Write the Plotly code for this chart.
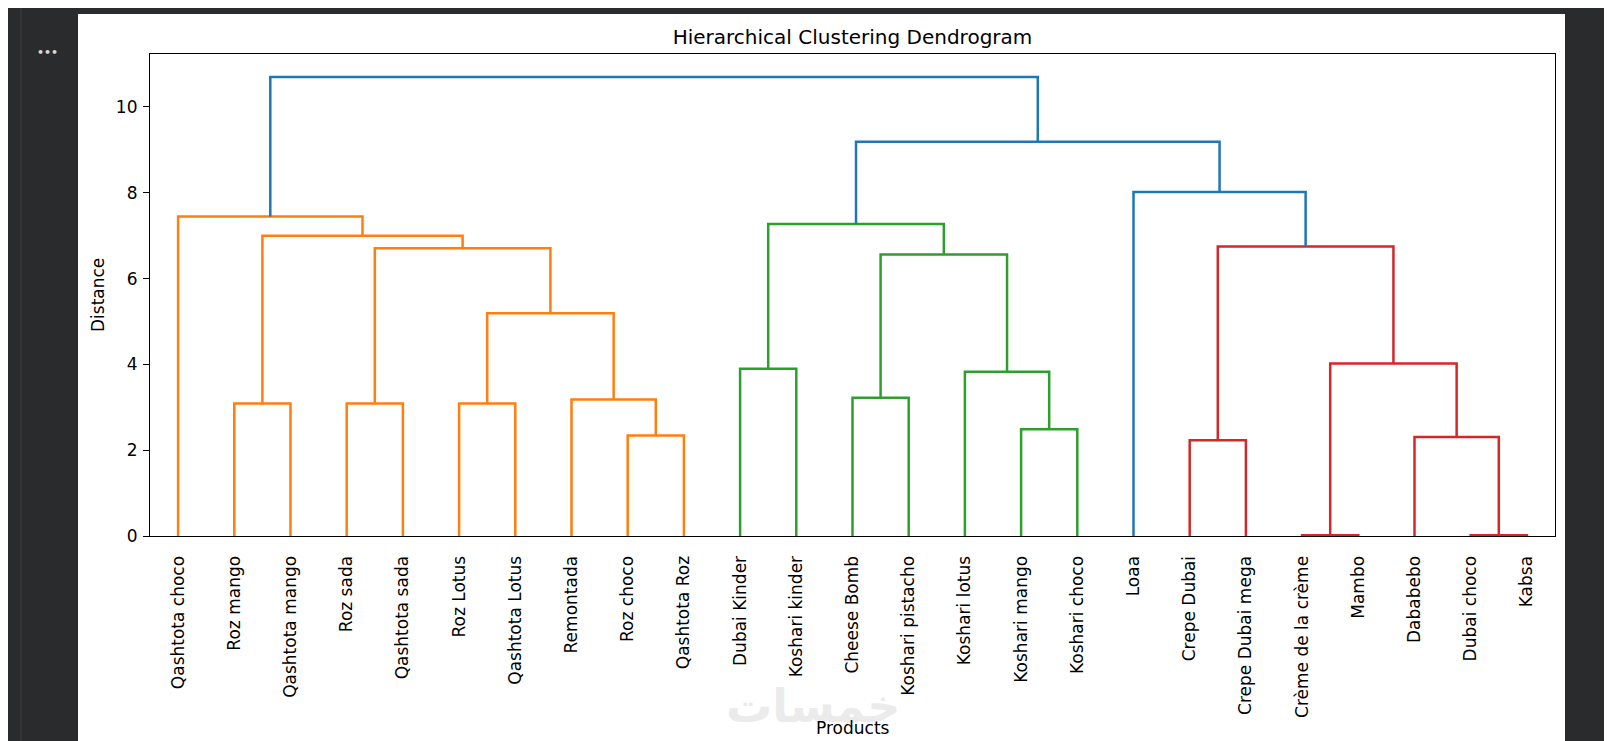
import plotly.graph_objects as go

# ---------------- data ----------------
products = ["Qashtota choco", "Roz mango", "Qashtota mango", "Roz sada", "Qashtota sada",
            "Roz Lotus", "Qashtota Lotus", "Remontada", "Roz choco", "Qashtota Roz",
            "Dubai Kinder", "Koshari kinder", "Cheese Bomb", "Koshari pistacho",
            "Koshari lotus", "Koshari mango", "Koshari choco", "Loaa", "Crepe Dubai",
            "Crepe Dubai mega", "Crème de la crème", "Mambo", "Dababebo", "Dubai choco", "Kabsa"]

# merges (scipy style: id < n is a leaf, id >= n is merge id-n)
merge_left = [20, 23, 18, 22, 8, 15, 1, 3, 5, 7, 12, 14, 10, 25, 33, 35, 32, 27, 31, 37, 0, 17, 44, 45]
merge_right = [21, 24, 19, 26, 9, 16, 2, 4, 6, 29, 13, 30, 11, 28, 34, 36, 39, 38, 41, 40, 43, 42, 46, 47]
merge_height = [0.02, 0.02, 2.23, 2.31, 2.34, 2.49, 3.09, 3.09, 3.09, 3.18, 3.22, 3.83, 3.90,
                4.02, 5.19, 6.56, 6.71, 6.75, 7.00, 7.27, 7.45, 8.02, 9.19, 10.70]

y_ticks = [0, 2, 4, 6, 8, 10]

# ---------------- geometry ----------------
n = len(products)
leaf_x = [5 + 10 * i for i in range(n)]
node_x = {i: leaf_x[i] for i in range(n)}
node_h = {i: 0.0 for i in range(n)}
parent = {}
for k, (a, b, h) in enumerate(zip(merge_left, merge_right, merge_height)):
    nid = n + k
    node_x[nid] = (node_x[a] + node_x[b]) / 2
    node_h[nid] = h
    parent[a] = nid
    parent[b] = nid

threshold = 0.7 * max(merge_height)
above_color = "#1f77b4"
palette = ["#ff7f0e", "#2ca02c", "#d62728", "#9467bd", "#8c564b"]

# find cluster roots below threshold
roots = []
for k, h in enumerate(merge_height):
    nid = n + k
    if h < threshold and (nid not in parent or node_h[parent[nid]] >= threshold):
        roots.append(nid)
roots.sort(key=lambda r: node_x[r])

link_color = {}


def paint(nid, col):
    if nid < n:
        return
    link_color[nid] = col
    k = nid - n
    paint(merge_left[k], col)
    paint(merge_right[k], col)


for i, r in enumerate(roots):
    paint(r, palette[i % len(palette)])

groups = {}
for k, (a, b, h) in enumerate(zip(merge_left, merge_right, merge_height)):
    nid = n + k
    col = link_color.get(nid, above_color)
    xs, ys = groups.setdefault(col, ([], []))
    xs += [node_x[a], node_x[a], node_x[b], node_x[b], None]
    ys += [node_h[a], h, h, node_h[b], None]

fig = go.Figure()
for col, (xs, ys) in groups.items():
    fig.add_trace(go.Scatter(x=xs, y=ys, mode="lines",
                             line=dict(color=col, width=2.5),
                             hoverinfo="skip", showlegend=False))

W, H = 1612, 741
ML, MR, MT, MB = 142, 65, 46, 213
PW, PH = W - ML - MR, H - MT - MB


def px(x):
    return (x - ML) / PW


def py(y):
    return (H - MB - y) / PH


font = "DejaVu Sans"
fig.update_layout(
    width=W, height=H,
    margin=dict(l=ML, r=MR, t=MT, b=MB),
    paper_bgcolor="#2a2b2d",
    plot_bgcolor="white",
    title=dict(text="Hierarchical Clustering Dendrogram", x=0.5, xref="paper",
               xanchor="center", y=1 - 29 / H, yanchor="middle",
               font=dict(family=font, size=20, color="black")),
    font=dict(family=font, color="black"),
    xaxis=dict(range=[0, 10 * n], tickmode="array", tickvals=leaf_x, ticktext=products,
               tickangle=-90, ticks="", showline=True, mirror=True, linecolor="black",
               linewidth=1.2, showgrid=False, zeroline=False,
               tickfont=dict(family=font, size=17, color="black"),
               ticklabelstandoff=12, fixedrange=True),
    yaxis=dict(range=[0, max(merge_height) * 1.05], tickmode="array", tickvals=y_ticks,
               ticks="outside", ticklen=6, tickwidth=1.2, tickcolor="black",
               showline=True, mirror=True, linecolor="black", linewidth=1.2,
               showgrid=False, zeroline=False,
               tickfont=dict(family=font, size=17, color="black"),
               ticklabelstandoff=2, fixedrange=True),
    shapes=[
        dict(type="rect", xref="paper", yref="paper", x0=px(70), x1=px(1557), y0=py(741),
             y1=py(6), fillcolor="white", line=dict(width=0), layer="below"),
        dict(type="line", xref="paper", yref="paper", x0=px(13), x1=px(13), y0=py(741),
             y1=py(0), line=dict(color="#3d3e40", width=1), layer="below"),
    ],
    annotations=[
        dict(text="<b>خمسات</b>", xref="paper", yref="paper", x=px(805), y=py(698),
             showarrow=False, font=dict(family=font, size=46, color="#ebebeb"),
             xanchor="center", yanchor="middle"),
        dict(text="<b>•••</b>", xref="paper", yref="paper", x=px(39), y=py(44),
             showarrow=False, font=dict(family=font, size=11, color="#d8d8d8"),
             xanchor="center", yanchor="middle"),
        dict(text="Products", xref="paper", yref="paper", x=0.5, y=py(720),
             showarrow=False, font=dict(family=font, size=17, color="black"),
             xanchor="center", yanchor="middle"),
        dict(text="Distance", xref="paper", yref="paper", x=px(90), y=0.5, textangle=-90,
             showarrow=False, font=dict(family=font, size=17, color="black"),
             xanchor="center", yanchor="middle"),
    ],
)

fig.write_html("out.html")
